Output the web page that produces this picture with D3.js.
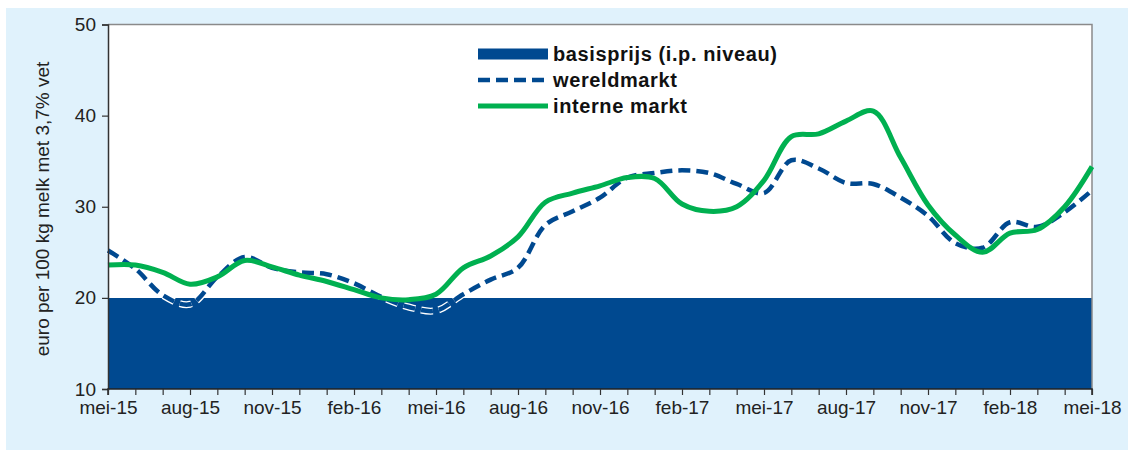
<!DOCTYPE html>
<html><head><meta charset="utf-8">
<script src="https://cdn.jsdelivr.net/npm/d3@7"></script>
<style>html,body{margin:0;padding:0;background:#fff;} svg{display:block;font-family:"Liberation Sans",Arial,sans-serif;}</style>
</head><body>
<svg id="chart" width="1128" height="450"></svg>
<script>
const months = ["mei-15","jun-15","jul-15","aug-15","sep-15","okt-15","nov-15","dec-15","jan-16","feb-16","mrt-16","apr-16",
"mei-16","jun-16","jul-16","aug-16","sep-16","okt-16","nov-16","dec-16","jan-17","feb-17","mrt-17","apr-17",
"mei-17","jun-17","jul-17","aug-17","sep-17","okt-17","nov-17","dec-17","jan-18","feb-18","mrt-18","apr-18","mei-18"];
const tickLabels = ["mei-15","aug-15","nov-15","feb-16","mei-16","aug-16","nov-16","feb-17","mei-17","aug-17","nov-17","feb-18","mei-18"];
const basisprijs = 20;
const wereldmarkt = [25.2,23.2,20.3,19.3,22.3,24.5,23.3,22.8,22.6,21.6,20.1,19.0,
18.6,20.4,22.0,23.3,28.0,29.5,31.0,33.2,33.7,34.0,33.7,32.5,
31.5,35.1,34.2,32.6,32.5,31.0,29.0,26.0,25.5,28.3,27.8,29.4,31.8];
const interneMarkt = [23.6,23.6,22.8,21.5,22.3,24.1,23.4,22.5,21.8,20.9,20.0,19.8,
20.4,23.3,24.6,26.7,30.5,31.5,32.3,33.2,33.1,30.3,29.5,30.0,
32.9,37.7,38.0,39.4,40.5,35.4,30.2,26.9,25.0,27.1,27.5,30.0,34.4];
const yTicks = [10,20,30,40,50];
const legendLabels = ["basisprijs (i.p. niveau)","wereldmarkt","interne markt"];
const yTitle = "euro per 100 kg melk met 3,7% vet";

const navy = "#004990", green = "#00b050";
const svg = d3.select("#chart");
svg.append("rect").attr("x",6).attr("y",8).attr("width",1122).attr("height",442).attr("fill","#e0f2fc");

const L=108, R=1092, T=24.5, B=389;
const x = d3.scalePoint().domain(months).range([L,R]);
const y = d3.scaleLinear().domain([10,50]).range([B,T]);

svg.append("rect").attr("x",L).attr("y",T).attr("width",R-L).attr("height",B-T).attr("fill","#fff");

// basisprijs area
svg.append("path").datum(months)
  .attr("fill",navy)
  .attr("d", d3.area().x(d=>x(d)).y0(y(10)).y1(y(basisprijs)));

// border top/right
svg.append("path").attr("d",`M${L},${T}H${R}V${B}`).attr("fill","none").attr("stroke","#8a8a8a").attr("stroke-width",1.5);

const curve = d3.curveCatmullRom.alpha(0.5);
const lineW = d3.line().x((d,i)=>x(months[i])).y(d=>y(d)).curve(curve);

svg.append("path").datum(wereldmarkt).attr("d",lineW).attr("fill","none")
  .attr("stroke","#fff").attr("stroke-width",7).attr("stroke-dasharray","12,6");
svg.append("path").datum(wereldmarkt).attr("d",lineW).attr("fill","none")
  .attr("stroke",navy).attr("stroke-width",4.5).attr("stroke-dasharray","12,6");
svg.append("path").datum(interneMarkt).attr("d",lineW).attr("fill","none")
  .attr("stroke",green).attr("stroke-width",5).attr("stroke-linejoin","round");

// axes
const yAxis = d3.axisLeft(y).tickValues(yTicks).tickSize(6).tickPadding(6);
const gy = svg.append("g").attr("transform",`translate(${L},0)`).call(yAxis);
gy.select(".domain").attr("stroke","#333").attr("stroke-width",1.5);
gy.selectAll(".tick line").attr("stroke","#333").attr("stroke-width",1.2);
gy.selectAll(".tick text").attr("font-size",19).attr("fill","#222").attr("font-family","Liberation Sans, Arial, sans-serif");

const xAxis = d3.axisBottom(x).tickSize(6).tickPadding(6).tickFormat(d=>tickLabels.includes(d)?d:"");
const gx = svg.append("g").attr("transform",`translate(0,${B})`).call(xAxis);
gx.select(".domain").attr("stroke","#222").attr("stroke-width",1.5).attr("d",`M${L},6V0H${R}V6`);
gx.selectAll(".tick line").attr("stroke","#333").attr("stroke-width",1.2);
gx.selectAll(".tick text").attr("font-size",19).attr("fill","#222").attr("font-family","Liberation Sans, Arial, sans-serif");

// y title
svg.append("text").attr("transform","translate(49,209) rotate(-90)")
  .attr("text-anchor","middle").attr("font-size",19).attr("fill","#222").text(yTitle);

// legend
const lg = svg.append("g");
const rows = [54,80,106];
lg.append("rect").attr("x",478).attr("y",rows[0]-5.5).attr("width",70).attr("height",11).attr("fill",navy);
lg.append("line").attr("x1",478).attr("x2",548).attr("y1",rows[1]).attr("y2",rows[1])
  .attr("stroke",navy).attr("stroke-width",4.5).attr("stroke-dasharray","12,6");
lg.append("line").attr("x1",478).attr("x2",548).attr("y1",rows[2]).attr("y2",rows[2])
  .attr("stroke",green).attr("stroke-width",5);
legendLabels.forEach((t,i)=>{
  lg.append("text").attr("x",553).attr("y",rows[i]).attr("dy","0.35em")
    .attr("font-size",20).attr("font-weight","bold").attr("letter-spacing",0.6).attr("fill","#111").text(t);
});
</script>
</body></html>
